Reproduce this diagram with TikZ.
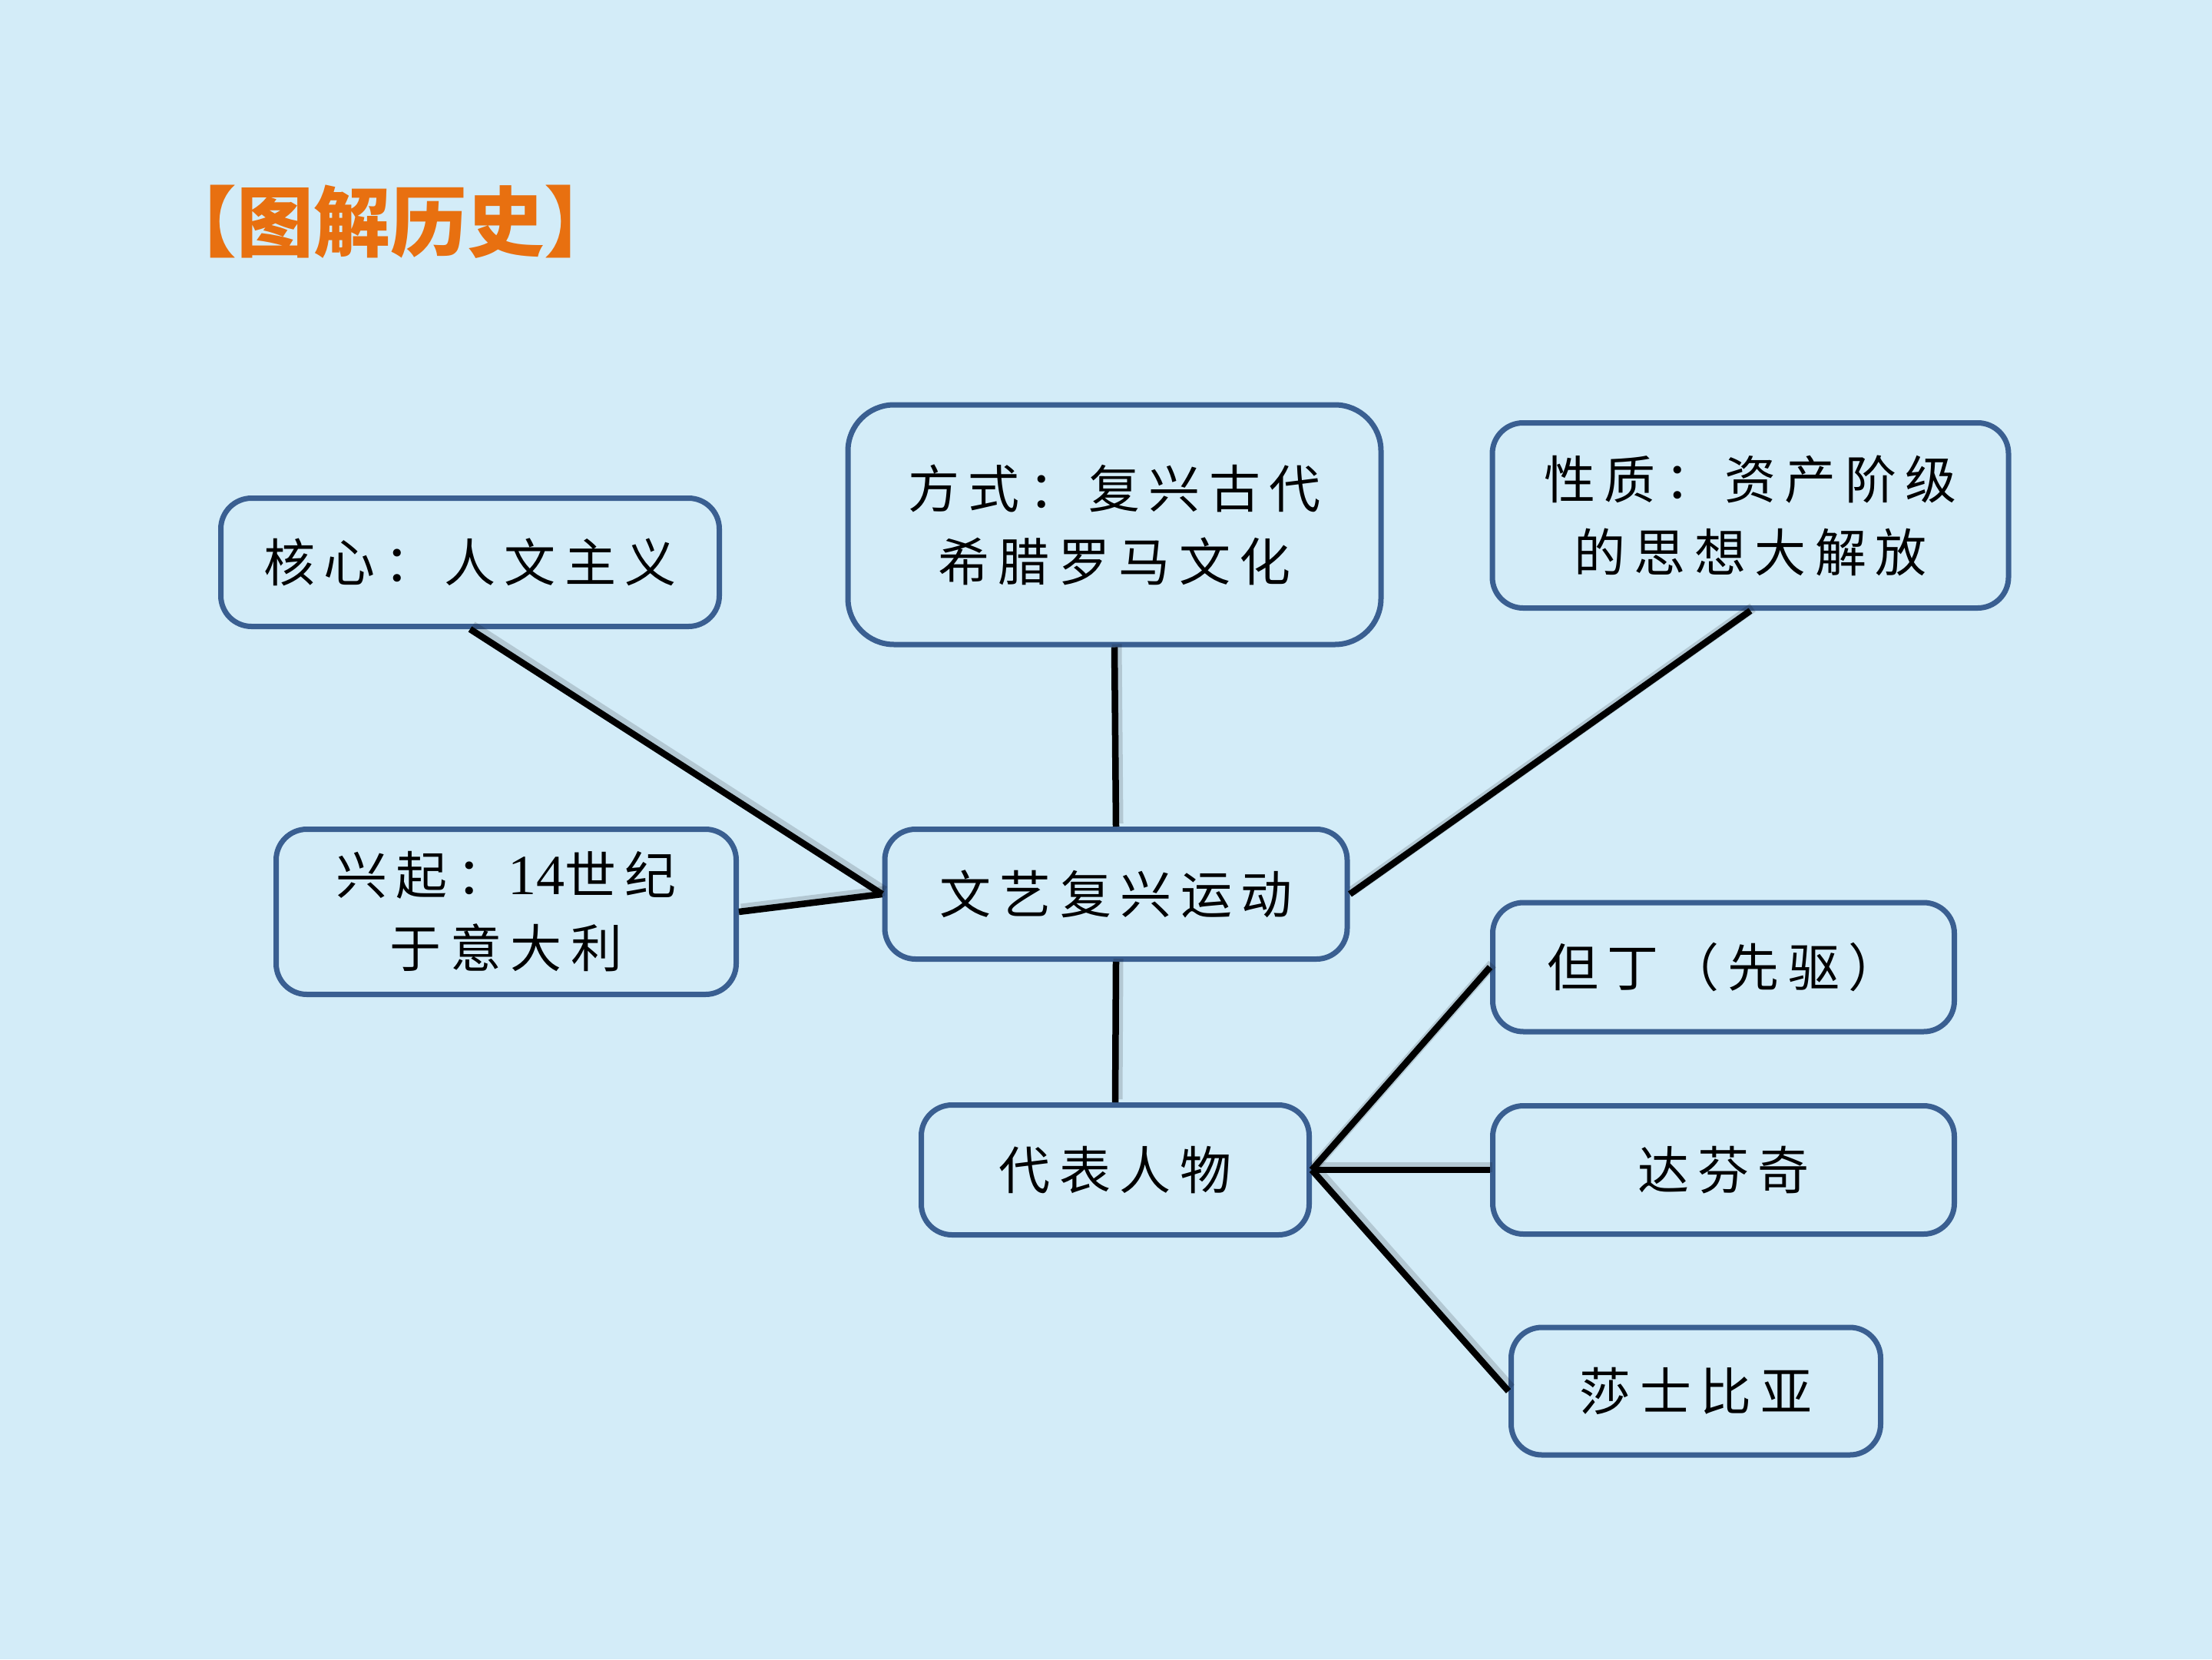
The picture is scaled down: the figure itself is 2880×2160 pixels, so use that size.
\documentclass[tikz,border=0pt]{standalone}
\usepackage{fontspec}
\setmainfont{Liberation Serif}
\newfontfamily\cjk[LetterSpace=17]{Noto Sans CJK SC}
\newfontfamily\titlefont{Noto Sans CJK SC}
\newfontfamily\numfont{Liberation Serif}
\definecolor{bgblue}{RGB}{211,236,248}
\definecolor{boxblue}{RGB}{58,95,145}
\definecolor{titleorange}{RGB}{232,112,16}
\tikzset{
  box/.style={draw=boxblue, line width=7pt, rounded corners=40pt, inner sep=0pt,
    align=center, font=\cjk\fontsize{67}{95}\selectfont, text=black},
  link/.style={draw=black, line width=8.5pt},
  linkshadow/.style={draw=black, opacity=0.15, line width=13pt, transform canvas={shift={(3pt,4pt)}}}
}
\begin{document}
\begin{tikzpicture}[x=1pt,y=-1pt]
\fill[bgblue] (0,0) rectangle (2880,2160);
\useasboundingbox (0,0) rectangle (2880,2160);
\node[anchor=west, text=titleorange, inner sep=0pt, font=\titlefont\bfseries\fontsize{100}{100}\selectfont] (title) at (208,289) {【图解历史】};
\node[box, minimum width=649pt, minimum height=167pt] (core) at (612,732) {核心：人文主义};
\node[box, minimum width=694pt, minimum height=312pt, rounded corners=60pt] (way) at (1451,683) {方式：复兴古代\\希腊罗马文化};
\node[box, minimum width=672pt, minimum height=241pt] (nature) at (2279,671) {性质：资产阶级\\的思想大解放};
\node[box, minimum width=599pt, minimum height=215pt] (rise) at (659,1187) {兴起：{\numfont\fontsize{74}{95}\selectfont 14}世纪\\于意大利};
\node[box, minimum width=602pt, minimum height=169pt] (ren) at (1453,1164) {文艺复兴运动};
\node[box, minimum width=505pt, minimum height=169pt] (people) at (1452,1523) {代表人物};
\node[box, minimum width=601pt, minimum height=168pt] (dante) at (2244,1259) {但丁（先驱）};
\node[box, minimum width=601pt, minimum height=167pt] (vinci) at (2244,1523) {达芬奇};
\node[box, minimum width=481pt, minimum height=166pt] (shake) at (2208,1811) {莎士比亚};
\foreach \s in {linkshadow,link}{
  \draw[\s] (core.south) -- (ren.west);
  \draw[\s] (rise.east) -- (ren.west);
  \draw[\s] (way.south) -- (ren.north);
  \draw[\s] (nature.south) -- (ren.east);
  \draw[\s] (ren.south) -- (people.north);
  \draw[\s] (people.east) -- (dante.west);
  \draw[\s] (people.east) -- (vinci.west);
  \draw[\s] (people.east) -- (shake.west);
}
\end{tikzpicture}
\end{document}
